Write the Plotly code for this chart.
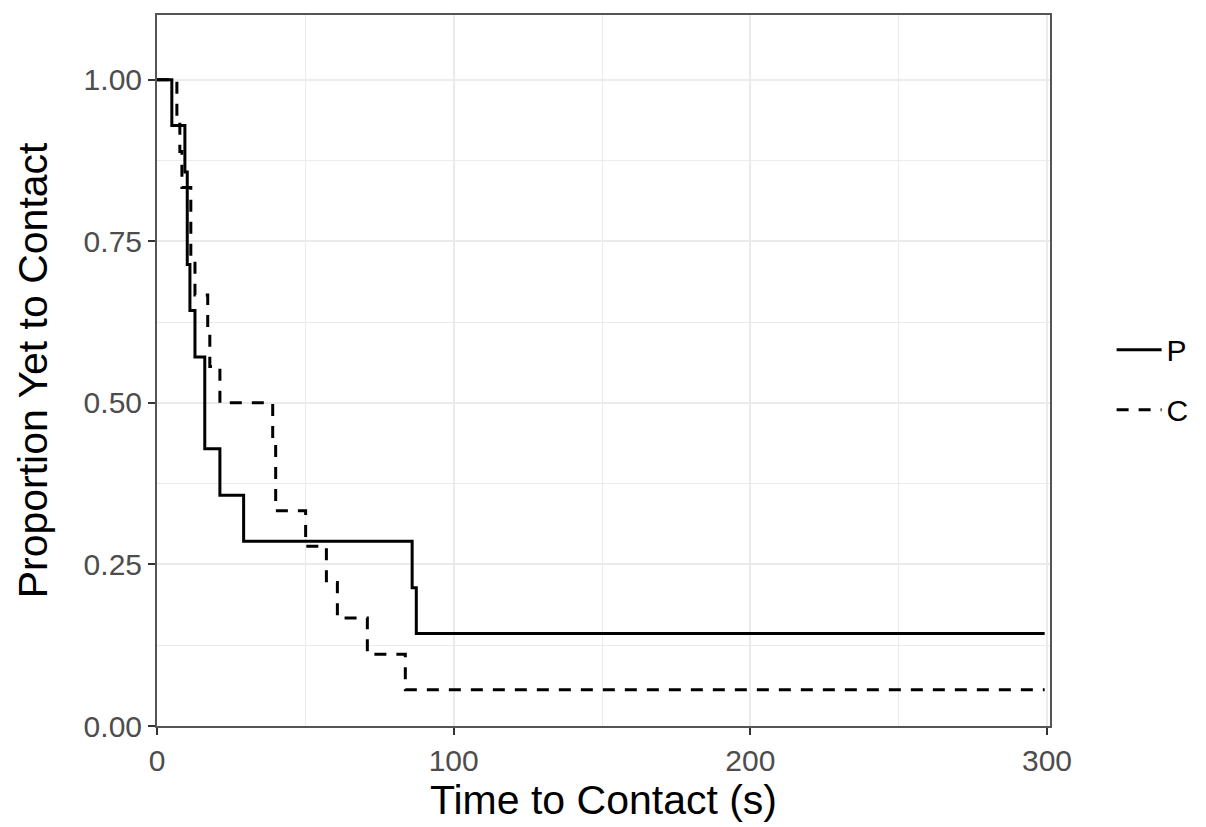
import plotly.graph_objects as go

# Kaplan-Meier style step estimates of the proportion yet to make contact
p_time = [0, 5.0, 9.4, 10.2, 11.1, 12.8, 16.1, 21.2, 29.2, 86.0, 87.4, 299.2]
p_surv = [1.0, 0.929, 0.857, 0.714, 0.643, 0.571, 0.429, 0.357, 0.286, 0.214, 0.143, 0.143]

c_time = [0, 6.7, 7.7, 8.4, 11.4, 12.8, 17.1, 17.8, 21.2, 39.0, 40.0, 50.1,
          57.1, 60.8, 70.9, 83.7, 299.2]
c_surv = [1.0, 0.944, 0.889, 0.833, 0.722, 0.667, 0.611, 0.556, 0.5, 0.444, 0.333,
          0.278, 0.222, 0.167, 0.111, 0.056, 0.056]

x_ticks = [0, 100, 200, 300]
y_ticks = [0, 0.25, 0.5, 0.75, 1.0]
y_tick_text = ["0.00", "0.25", "0.50", "0.75", "1.00"]

FONT = "Liberation Sans, Arial, Helvetica, sans-serif"
GRID = "#EBEBEB"
DARK = "#333333"

fig = go.Figure()
fig.add_trace(go.Scatter(
    x=p_time, y=p_surv, mode="lines", name="P", line_shape="hv",
    line=dict(color="black", width=3), legendgroup="P",
))
fig.add_trace(go.Scatter(
    x=c_time, y=c_surv, mode="lines", name="C", line_shape="hv",
    line=dict(color="black", width=3, dash="12px,10px"), legendgroup="C",
))

axis_common = dict(
    showline=True, linecolor="#555555", linewidth=2, mirror=True,
    ticks="outside", ticklen=7, tickwidth=2, tickcolor=DARK,
    tickfont=dict(family=FONT, size=30, color="#4D4D4D"),
    showgrid=True, gridcolor=GRID, gridwidth=2, zeroline=False,
)

fig.update_layout(
    width=1206, height=827,
    margin=dict(l=157, r=154, t=15, b=101),
    paper_bgcolor="white", plot_bgcolor="white",
    font=dict(family=FONT, color="black"),
    xaxis=dict(
        range=[0, 301], tickvals=x_ticks,
        minor=dict(tickvals=[50, 150, 250], showgrid=True, gridcolor=GRID,
                   gridwidth=1, ticks=""),
        title=dict(text="Time to Contact (s)", font=dict(size=41, color="black"),
                   standoff=6),
        **axis_common,
    ),
    yaxis=dict(
        range=[0, 1.1], tickvals=y_ticks, ticktext=y_tick_text,
        minor=dict(tickvals=[0.125, 0.375, 0.625, 0.875], showgrid=True,
                   gridcolor=GRID, gridwidth=1, ticks=""),
        **axis_common,
    ),
    annotations=[dict(
        text="Proportion Yet to Contact", textangle=-90,
        xref="paper", yref="paper", x=-0.139, y=0.5,
        xanchor="center", yanchor="middle", showarrow=False,
        font=dict(family=FONT, size=41, color="black"),
    )],
    legend=dict(
        x=1.069, xanchor="left", y=0.487, yanchor="middle",
        font=dict(family=FONT, size=30, color="black"),
        itemwidth=45,
        tracegroupgap=18, bgcolor="rgba(0,0,0,0)",
    ),
    showlegend=True,
)

fig.write_html("out.html")
